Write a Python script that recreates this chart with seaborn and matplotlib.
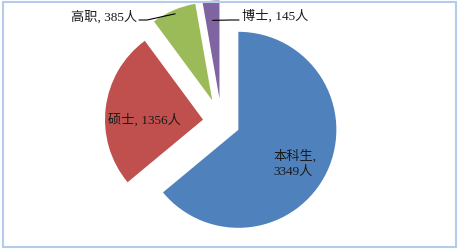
import numpy as np
import matplotlib
matplotlib.use("Agg")
import matplotlib.pyplot as plt
import seaborn as sns
from matplotlib.patches import Rectangle

categories = ["本科生", "硕士", "高职", "博士"]
values = [3349, 1356, 385, 145]
colors = ["#4F81BD", "#C0504D", "#9BBB59", "#8064A2"]
explode_frac = [0.19, 0.19, 0.24, 0.24]

sns.set_theme(style="white")
plt.rcParams['font.family'] = ['Liberation Serif', 'Noto Sans CJK SC', 'DejaVu Sans']

W, H = 459, 251
R = 98
fig = plt.figure(figsize=(W / 100, H / 100), dpi=100)
ax = fig.add_axes([0, 0, 1, 1])

wedges, _ = ax.pie(values, colors=colors, explode=[e * R for e in explode_frac],
                   startangle=90, counterclock=False, center=(221.5, 128.1),
                   radius=R, wedgeprops=dict(linewidth=0), frame=True)
ax.set_xlim(0, W)
ax.set_ylim(0, H)
ax.set_aspect('equal')
ax.set_axis_off()

clip = Rectangle((3, 3), W - 6, H - 6, transform=ax.transData, visible=False)
ax.add_patch(clip)
for w in wedges:
    w.set_clip_path(clip)

fs = 9.5
lab = [f"{c}, {v}人" for c, v in zip(categories, values)]

# 本科生 label inside blue
ax.text(273, 87, f"{categories[0]},\n{values[0]}人", ha='left', va='center',
        fontsize=fs, linespacing=1.4, color='#1a1a1a')
# 硕士 label inside red
ax.text(144.5, 131, lab[1], ha='center', va='center', fontsize=fs, color='#1a1a1a')

def edge_point(w, frac):
    mid = np.deg2rad((w.theta1 + w.theta2) / 2)
    cx, cy = w.center
    return cx + frac * w.r * np.cos(mid), cy + frac * w.r * np.sin(mid)

# 高职 label with leader
gx, gy = edge_point(wedges[2], 0.96)
ax.plot([139, 147, gx], [230, 230, gy], color='black', lw=0.8)
ax.text(137, 234, lab[2], ha='right', va='center', fontsize=fs, color='#1a1a1a')

# 博士 label with leader
px, py = edge_point(wedges[3], 0.8)
ax.plot([px, 231, 239], [py, 230, 230], color='black', lw=0.8)
ax.text(242, 235, lab[3], ha='left', va='center', fontsize=fs, color='#1a1a1a')

fig.patches.append(Rectangle((3 / W, 3 / H), (W - 6) / W, (H - 6) / H,
                             transform=fig.transFigure, fill=False,
                             edgecolor='#B4CCEB', linewidth=1.5))

fig.savefig("out.png", dpi=100, facecolor='white')
